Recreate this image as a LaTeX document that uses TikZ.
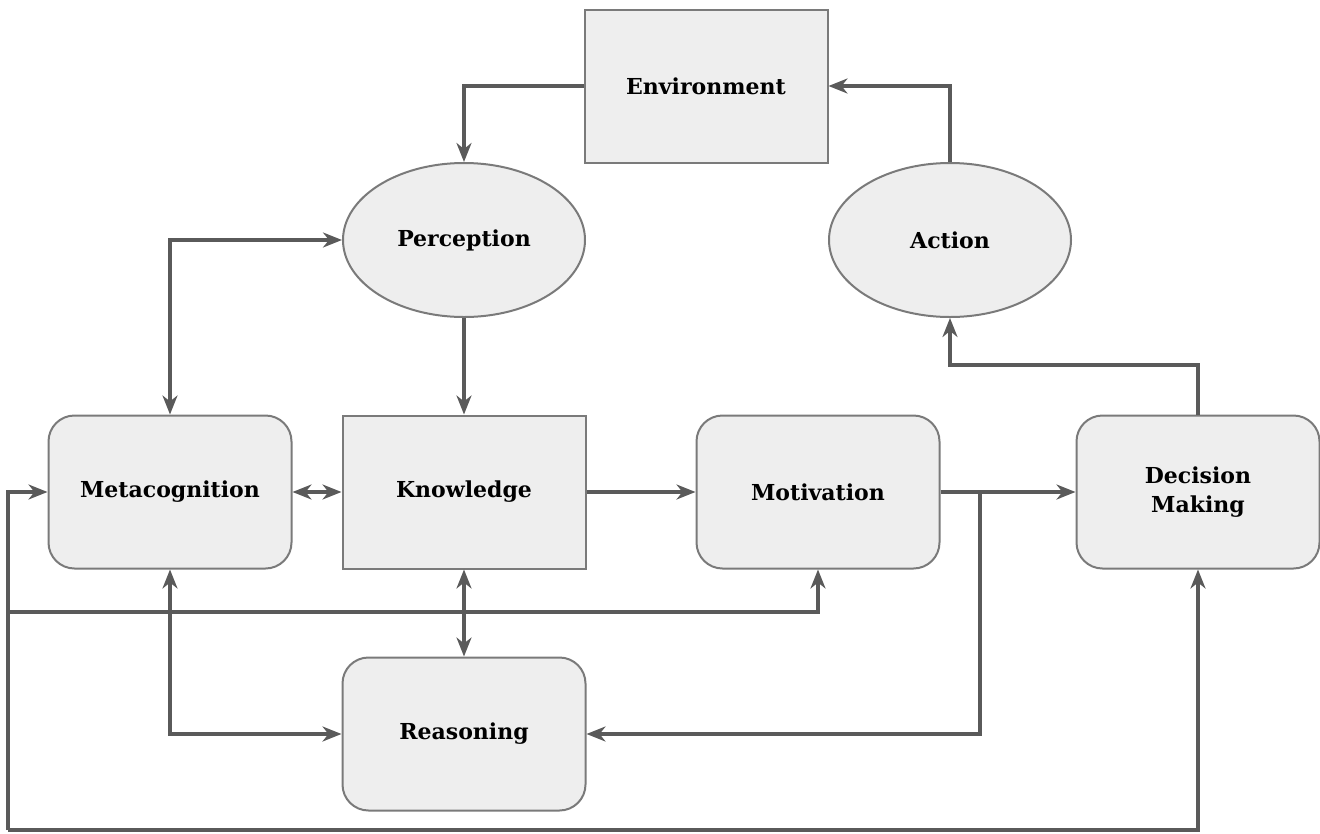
\documentclass[tikz,border=0pt]{standalone}
\usepackage{fontspec}
\setmainfont{DejaVu Serif}
\usetikzlibrary{arrows.meta,shapes.geometric}
\definecolor{BoxFill}{HTML}{EEEEEE}
\definecolor{BoxLine}{HTML}{7A7A7A}
\definecolor{LinkGray}{HTML}{5A5A5A}

\tikzset{
  block/.style={draw=BoxLine, line width=2pt, fill=BoxFill, minimum width=243pt, minimum height=153pt,
    align=center, inner sep=0pt, font=\bfseries\fontsize{22}{29}\selectfont},
  softblock/.style={block, rounded corners=26pt},
  oval/.style={block, ellipse, minimum width=242pt, minimum height=154pt},
  link/.style={draw=LinkGray, line width=3.2pt, -{Stealth[length=19pt,width=15pt,inset=6pt]}},
  duplink/.style={link, {Stealth[length=19pt,width=15pt,inset=6pt]}-{Stealth[length=19pt,width=15pt,inset=6pt]}},
  bus/.style={draw=LinkGray, line width=3.2pt}
}

\begin{document}
\begin{tikzpicture}[x=1pt,y=-1pt]
  \useasboundingbox (0,0) rectangle (1320,833);

  % top row
  \node[block] (env) at (706,86) {Environment};
  \node[oval] (perc) at (464,240) {Perception};
  \node[oval] (act) at (950,240) {Action};

  % middle row
  \node[softblock] (meta) at (170,492) {Metacognition};
  \node[block] (know) at (464,492) {Knowledge};
  \node[softblock] (moti) at (818,492) {Motivation};
  \node[softblock] (dec) at (1198,492) {Decision\\Making};

  % bottom
  \node[softblock] (reas) at (464,734) {Reasoning};

  \coordinate (split) at (980,492);
  \coordinate (bend) at (1198,365);
  \coordinate (busL) at (8,830);
  \coordinate (busM) at (8,612);

  \draw[link] (env.west) -| (perc.north);
  \draw[link] (act.north) |- (env.east);
  \draw[link] (perc) -- (know);
  \draw[duplink] (meta.north) |- (perc.west);
  \draw[duplink] (meta) -- (know);
  \draw[link] (know) -- (moti);
  \draw[link] (moti.east) -- (dec.west);
  \draw[link] (split) |- (reas.east);
  \draw[link] (dec.north) -- (bend) -| (act.south);
  \draw[duplink] (know) -- (reas);
  \draw[duplink] (meta.south) |- (reas.west);

  % return bus
  \draw[bus] (busL) -- (busM);
  \draw[link] (busM) |- (meta.west);
  \draw[link] (busM) -| (moti.south);
  \draw[link] (busL) -| (dec.south);
\end{tikzpicture}
\end{document}
